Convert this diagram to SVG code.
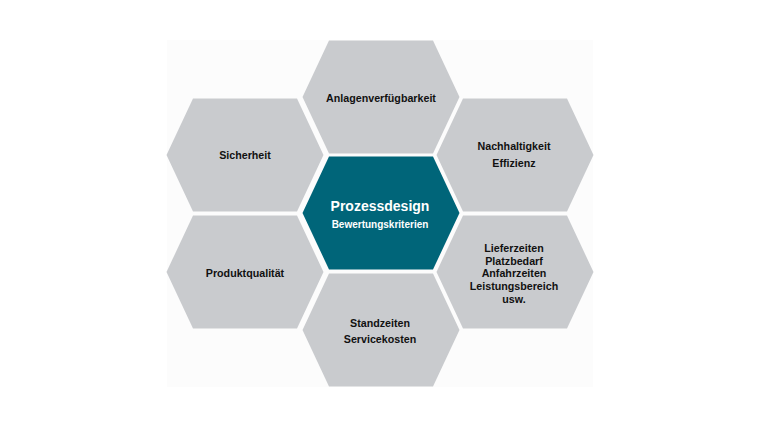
<svg xmlns="http://www.w3.org/2000/svg" xmlns:xlink="http://www.w3.org/1999/xlink" width="760" height="427" viewBox="0 0 760 427">
<style>
.gray{fill:#c9cbce}
.teal{fill:#006579}
.t{font-family:"Liberation Sans",Arial,sans-serif;font-weight:bold;font-size:10.7px;fill:#111;text-anchor:middle}
.w{fill:#ffffff}
.big{font-size:14px}
.sub{font-size:10px}
</style>
<defs>
<polygon id="hex" points="-78.5,0 -52,-56.5 52,-56.5 78.5,0 52,56.5 -52,56.5"/>
</defs>
<rect x="0" y="0" width="760" height="427" fill="#ffffff"/>
<rect x="167" y="40" width="426" height="347" fill="#fcfcfc"/>
<g id="connectors"/>
<g id="node-anlagen">
<use xlink:href="#hex" transform="translate(381,97)" class="gray"/>
<text class="t" x="381" y="101.5">Anlagenverfügbarkeit</text>
</g>
<g id="node-sicherheit">
<use xlink:href="#hex" transform="translate(245,155)" class="gray"/>
<text class="t" x="245" y="159">Sicherheit</text>
</g>
<g id="node-nachhaltigkeit">
<use xlink:href="#hex" transform="translate(515,155)" class="gray"/>
<text class="t" x="514" y="150">Nachhaltigkeit</text>
<text class="t" x="514" y="166.5">Effizienz</text>
</g>
<g id="node-prozessdesign">
<use xlink:href="#hex" transform="translate(381,213)" class="teal"/>
<text class="t w big" x="380" y="211">Prozessdesign</text>
<text class="t w sub" x="380" y="227.5">Bewertungskriterien</text>
</g>
<g id="node-produktqualitaet">
<use xlink:href="#hex" transform="translate(245,272)" class="gray"/>
<text class="t" x="245" y="277">Produktqualität</text>
</g>
<g id="node-lieferzeiten">
<use xlink:href="#hex" transform="translate(515,272)" class="gray"/>
<text class="t" x="514" y="251.5">Lieferzeiten</text>
<text class="t" x="514" y="264.5">Platzbedarf</text>
<text class="t" x="514" y="277">Anfahrzeiten</text>
<text class="t" x="514" y="290">Leistungsbereich</text>
<text class="t" x="514" y="303">usw.</text>
</g>
<g id="node-standzeiten">
<use xlink:href="#hex" transform="translate(381,330)" class="gray"/>
<text class="t" x="380" y="326.5">Standzeiten</text>
<text class="t" x="380" y="343">Servicekosten</text>
</g>
</svg>
